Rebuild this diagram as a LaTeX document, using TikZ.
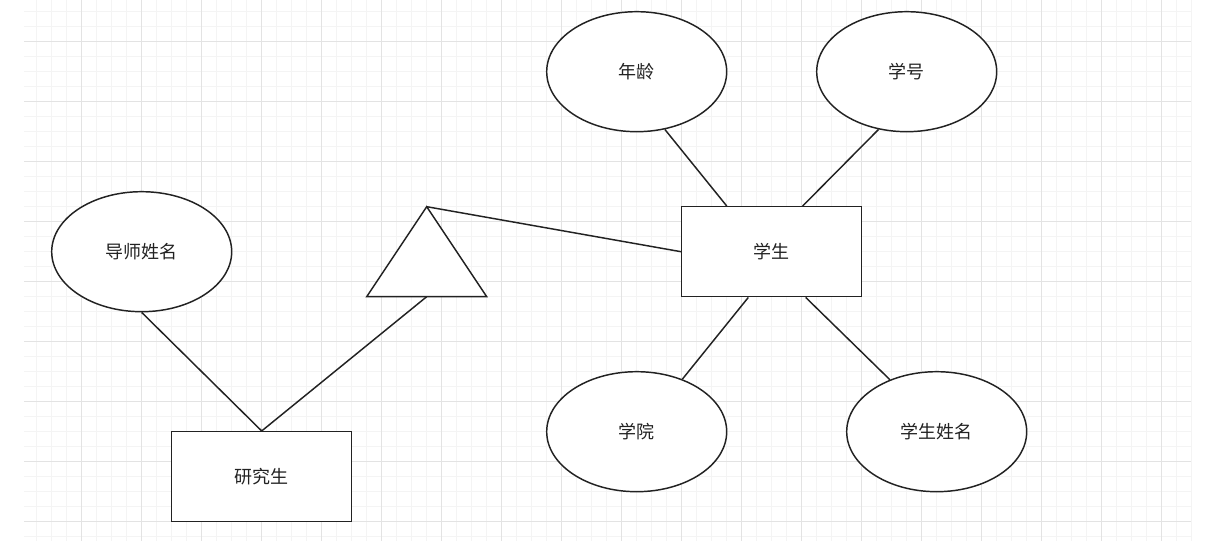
\documentclass[tikz,border=0pt]{standalone}
\usepackage{fontspec}
\usetikzlibrary{shapes.geometric}
\newfontfamily\cjk{Noto Sans CJK SC}
\definecolor{gridminor}{HTML}{F4F4F4}
\definecolor{gridmajor}{HTML}{E3E3E3}
\definecolor{ink}{HTML}{222222}
\begin{document}
\begin{tikzpicture}[x=0.75pt,y=-0.75pt,
  every node/.style={font=\cjk\fontsize{13.5}{16}\selectfont, text=ink},
  attr/.style={draw=ink, line width=1.1pt, fill=white, ellipse, minimum width=180*0.75pt, minimum height=120*0.75pt, inner sep=0pt},
  ent/.style={draw=ink, line width=1.1pt, fill=white, rectangle, minimum width=180*0.75pt, minimum height=90*0.75pt, inner sep=0pt},
  link/.style={draw=ink, line width=1.1pt}]
\useasboundingbox (0,0) rectangle (1215,541);
\fill[white] (0,0) rectangle (1215,541);
% grid
\foreach \i in {1,...,78} {
  \pgfmathsetmacro{\gx}{21.7+15*\i}
  \draw[gridminor, line width=0.75pt] (\gx,0) -- (\gx,541);
}
\foreach \i in {0,...,36} {
  \pgfmathsetmacro{\gy}{11.7+15*\i}
  \draw[gridminor, line width=0.75pt] (24,\gy) -- (1191,\gy);
}
\foreach \i in {1,...,19} {
  \pgfmathsetmacro{\gx}{21.7+60*\i}
  \draw[gridmajor, line width=0.75pt] (\gx,0) -- (\gx,541);
}
\foreach \i in {0,...,8} {
  \pgfmathsetmacro{\gy}{41.7+60*\i}
  \draw[gridmajor, line width=0.75pt] (24,\gy) -- (1191,\gy);
}
% shapes
\node[attr] (age) at (636.7,71.7) {年龄};
\node[attr] (sid) at (906.7,71.7) {学号};
\node[attr] (tutor) at (141.7,251.7) {导师姓名};
\node[attr] (college) at (636.7,431.7) {学院};
\node[attr] (sname) at (936.7,431.7) {学生姓名};
\node[ent] (stu) at (771.7,251.7) {学生};
\node[ent] (grad) at (261.7,476.7) {研究生};
\coordinate (apex) at (426.7,206.7);
\coordinate (bl) at (366.7,296.7);
\coordinate (br) at (486.7,296.7);
\coordinate (bm) at (426.7,296.7);
% connectors
\draw[link] (age.-64.6) -- ([xshift=-45*0.75pt]stu.north);
\draw[link] (sid.-116.6) -- ([xshift=31*0.75pt]stu.north);
\draw[link] ([xshift=-23.4*0.75pt]stu.south) -- (college.49.3);
\draw[link] ([xshift=34*0.75pt]stu.south) -- (sname.132.7);
\draw[link] (tutor.south) -- (grad.north);
\draw[link] (bm) -- (grad.north);
\draw[link] (apex) -- (stu.west);
% triangle
\draw[link, fill=white, line join=miter] (apex) -- (br) -- (bl) -- cycle;
\end{tikzpicture}
\end{document}
